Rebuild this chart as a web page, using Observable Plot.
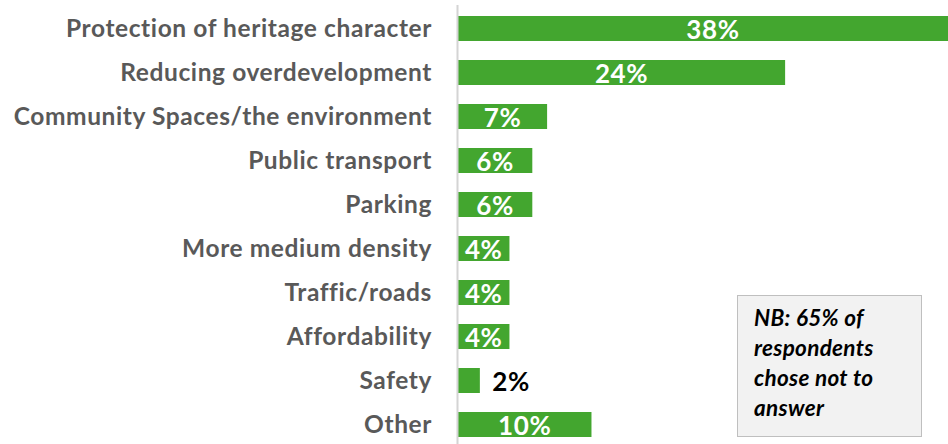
<!DOCTYPE html>
<html>
<head>
<meta charset="utf-8">
<script src="https://cdn.jsdelivr.net/npm/d3@7"></script>
<script src="https://cdn.jsdelivr.net/npm/@observablehq/plot@0.6"></script>
<style>
  html, body { margin: 0; padding: 0; background: #fff; }
  #wrap { position: relative; width: 948px; height: 444px; overflow: hidden; }
  #wrap svg { overflow: hidden; display: block; }
  #note {
    position: absolute; left: 737px; top: 295px; width: 185px; height: 142px;
    box-sizing: border-box; background: #f2f2f2; border: 1px solid #bfbfbf;
    padding: 7px 0 0 16px;
    font-family: Lato, "Noto Sans", sans-serif; font-weight: bold; font-style: italic;
    font-size: 22.5px; line-height: 30px; color: #000; letter-spacing: 0.3px;
  }
</style>
</head>
<body>
<div id="wrap"></div>
<script>
const categories = [
  "Protection of heritage character",
  "Reducing overdevelopment",
  "Community Spaces/the environment",
  "Public transport",
  "Parking",
  "More medium density",
  "Traffic/roads",
  "Affordability",
  "Safety",
  "Other"
];
const values = [38.0, 24.4, 6.7, 5.6, 5.6, 3.9, 3.9, 3.9, 1.7, 10.0];
const valueLabels = ["38%", "24%", "7%", "6%", "6%", "4%", "4%", "4%", "2%", "10%"];
const noteLines = ["NB: 65% of", "respondents", "chose not to", "answer"];

const data = categories.map((c, i) => ({category: c, value: values[i], label: valueLabels[i]}));
const green = "#43a62f";
const font = "Lato, 'Noto Sans', sans-serif";

const chart = Plot.plot({
  width: 948,
  height: 444,
  marginLeft: 457,
  marginTop: 5,
  marginBottom: 0,
  marginRight: 0,
  style: {fontFamily: font, background: "#fff", overflow: "hidden", letterSpacing: "0.6px"},
  x: {domain: [0, 38], range: [457, 968], axis: null},
  y: {domain: categories, range: [6.5, 447.5], paddingInner: 0.43, paddingOuter: 0.215, axis: null},
  marks: [
    Plot.barX(data, {y: "category", x: "value", fill: green}),
    Plot.ruleX([0], {stroke: "#d4d4d4", strokeWidth: 2}),
    Plot.axisY({
      tickSize: 0, tickPadding: 25.5, fontSize: 24.5, fontWeight: "bold",
      fill: "#595959", label: null, anchor: "left"
    }),
    Plot.text(data.filter(d => d.value >= 3), {
      y: "category", x: d => d.value / 2, text: "label",
      fill: "#fff", fontSize: 26, fontWeight: "bold", dy: 2
    }),
    Plot.text(data.filter(d => d.value < 3), {
      y: "category", x: "value", text: "label", textAnchor: "start",
      dx: 12, fill: "#000", fontSize: 26, fontWeight: "bold", dy: 2
    })
  ]
});

const wrap = document.getElementById("wrap");
wrap.appendChild(chart);
const note = document.createElement("div");
note.id = "note";
note.innerHTML = noteLines.join("<br>");
wrap.appendChild(note);
</script>
</body>
</html>
